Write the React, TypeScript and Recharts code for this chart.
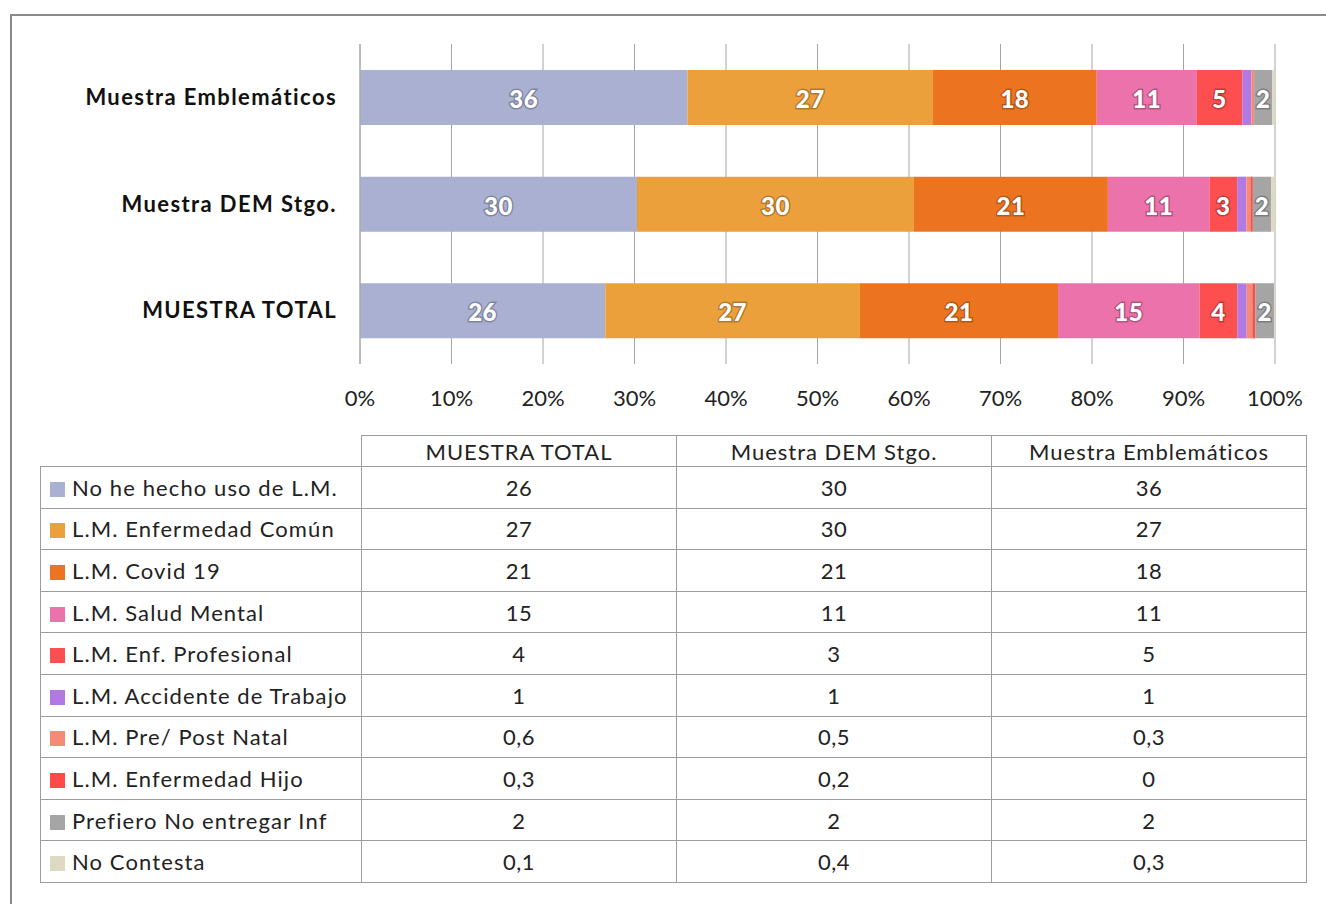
import React from 'react';
import { BarChart, Bar, XAxis, YAxis, CartesianGrid, LabelList } from 'recharts';

// table column order (chart rows are drawn bottom-up from it)
const categories = ['MUESTRA TOTAL', 'Muestra DEM Stgo.', 'Muestra Emblemáticos'];

const seriesNames = [
  'No he hecho uso de L.M.',
  'L.M. Enfermedad Común',
  'L.M. Covid 19',
  'L.M. Salud Mental',
  'L.M. Enf. Profesional',
  'L.M. Accidente de Trabajo',
  'L.M. Pre/ Post Natal',
  'L.M. Enfermedad Hijo',
  'Prefiero No entregar Inf',
  'No Contesta',
];

const noHeHechoUso = [26, 30, 36];
const enfermedadComun = [27, 30, 27];
const covid19 = [21, 21, 18];
const saludMental = [15, 11, 11];
const enfProfesional = [4, 3, 5];
const accidenteTrabajo = [1, 1, 1];
const prePostNatal = [0.6, 0.5, 0.3];
const enfermedadHijo = [0.3, 0.2, 0];
const prefieroNoEntregar = [2, 2, 2];
const noContesta = [0.1, 0.4, 0.3];

const seriesValues = [
  noHeHechoUso, enfermedadComun, covid19, saludMental, enfProfesional,
  accidenteTrabajo, prePostNatal, enfermedadHijo, prefieroNoEntregar, noContesta,
];

const seriesColors = [
  '#a9b0d2', '#eca03c', '#ec7420', '#ec72ab', '#fd4f4f',
  '#b07ae2', '#f58a76', '#ff4a4a', '#a5a5a5', '#ddd9c3',
];

const xTicks = [0, 0.1, 0.2, 0.3, 0.4, 0.5, 0.6, 0.7, 0.8, 0.9, 1];

const chartData = categories
  .map((name, ci) => {
    const row: Record<string, any> = { name };
    seriesValues.forEach((vals, si) => { row[`s${si}`] = vals[ci]; });
    return row;
  })
  .reverse();

const FONT = 'Lato, "Open Sans", sans-serif';
const fmt = (v: number) => String(v).replace('.', ',');

export default function App() {
  const renderLabel = (key: string) => (p: any) => {
    const v = chartData[p.index]?.[key];
    if (v == null || v < 2) return null;
    return (
      <text
        x={p.x + p.width / 2}
        y={p.y + p.height / 2 + 1}
        textAnchor="middle"
        dominantBaseline="central"
        fill="#fff"
        fontWeight={900}
        fontSize={24}
        fontFamily={FONT}
        letterSpacing={0.5}
        stroke="rgba(0,0,0,0.25)"
        strokeWidth={3}
        paintOrder="stroke"
      >
        {fmt(v)}
      </text>
    );
  };

  const border = '1px solid #9c9c9c';
  const cell: React.CSSProperties = {
    border,
    textAlign: 'center',
    padding: 0,
    fontSize: 22,
    letterSpacing: 0.5,
    color: '#222',
  };

  return (
    <div style={{ position: 'absolute', left: 0, top: 0, width: 1326, height: 904, overflow: 'hidden', background: '#fff', fontFamily: FONT }}>
      <div style={{ position: 'absolute', left: 10, top: 14, width: 1400, height: 1000, border: '2px solid #8a8a8a' }} />

      <div style={{ position: 'absolute', left: 0, top: 0 }}>
        <BarChart
          width={1326}
          height={420}
          data={chartData}
          layout="vertical"
          stackOffset="expand"
          barSize={55}
          margin={{ top: 44, right: 51, left: 0, bottom: 0 }}
        >
          <CartesianGrid horizontal={false} stroke="#a6a6a6" />
          <XAxis
            type="number"
            domain={[0, 1]}
            ticks={xTicks}
            tickFormatter={(v: number) => `${Math.round(v * 100)}%`}
            axisLine={false}
            tickLine={false}
            tickSize={0}
            tickMargin={26}
            height={56}
            interval={0}
            tick={{ fontSize: 22, fill: '#222', fontFamily: FONT }}
          />
          <YAxis
            type="category"
            dataKey="name"
            width={360}
            axisLine={{ stroke: '#a6a6a6' }}
            tickLine={false}
            tickSize={0}
            tickMargin={23}
            tick={{ fontSize: 22, fontWeight: 700, fill: '#111', fontFamily: FONT, letterSpacing: 1.4 }}
          />
          {seriesNames.map((n, i) => (
            <Bar key={n} dataKey={`s${i}`} name={n} stackId="a" fill={seriesColors[i]} isAnimationActive={false}>
              <LabelList dataKey={`s${i}`} content={renderLabel(`s${i}`)} />
            </Bar>
          ))}
        </BarChart>
      </div>

      <table
        style={{
          position: 'absolute',
          left: 40,
          top: 435,
          width: 1266,
          borderCollapse: 'collapse',
          tableLayout: 'fixed',
          fontFamily: FONT,
        }}
      >
        <colgroup>
          <col style={{ width: 321 }} />
          <col style={{ width: 315 }} />
          <col style={{ width: 315 }} />
          <col style={{ width: 315 }} />
        </colgroup>
        <tbody>
          <tr style={{ height: 31 }}>
            <td style={{ padding: 0, border: 'none', borderBottom: border }} />
            {categories.map(c => (
              <td key={c} style={{ ...cell, letterSpacing: 1 }}>{c}</td>
            ))}
          </tr>
          {seriesNames.map((n, si) => (
            <tr key={n} style={{ height: 41.6 }}>
              <td style={{ ...cell, textAlign: 'left', paddingLeft: 9, whiteSpace: 'nowrap', letterSpacing: 1.1 }}>
                <span style={{ display: 'inline-block', width: 15, height: 15, background: seriesColors[si], marginRight: 7, verticalAlign: -1 }} />
                {n}
              </td>
              {seriesValues[si].map((v, ci) => (
                <td key={ci} style={cell}>{fmt(v)}</td>
              ))}
            </tr>
          ))}
        </tbody>
      </table>
    </div>
  );
}
